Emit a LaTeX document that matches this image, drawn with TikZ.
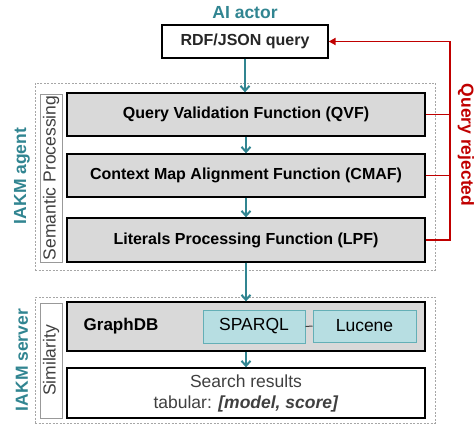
\documentclass[tikz,border=0pt]{standalone}
\usepackage{fontspec}
\setmainfont{Liberation Sans}
\usetikzlibrary{arrows.meta,calc}
\definecolor{tealc}{RGB}{49,133,145}
\definecolor{redc}{RGB}{192,0,0}
\definecolor{boxgray}{RGB}{217,217,217}
\definecolor{cyanfill}{RGB}{183,222,226}
\definecolor{cyanborder}{RGB}{100,175,182}
\definecolor{txtgray}{RGB}{64,64,64}
\newcommand{\fs}[1]{\fontsize{#1}{#1}\selectfont}
\begin{document}
\begin{tikzpicture}[x=1pt,y=-1pt,
  fnbox/.style={draw=black,line width=1.3pt,fill=boxgray,minimum width=358pt,inner sep=0pt,font=\fs{16}\bfseries},
  whitebox/.style={draw=black,line width=1.3pt,fill=white,inner sep=0pt},
  groupbox/.style={draw=gray!70,dashed,dash pattern=on 2pt off 1.5pt,line width=0.7pt},
  labbox/.style={draw=gray!80,line width=0.8pt,rotate=90,inner sep=0pt,text=txtgray,font=\fs{17.5}},
  sidelab/.style={rotate=90,text=tealc,font=\fs{17.5}\bfseries},
  tealarr/.style={draw=tealc,line width=2.4pt,-{Straight Barb[length=5pt,width=9pt,line width=2pt]}},
  redline/.style={draw=redc,line width=1.8pt},
  cyanbox/.style={draw=cyanborder,line width=1pt,fill=cyanfill,inner sep=0pt,font=\fs{17.5}}
]
\useasboundingbox (0,0) rectangle (474,425);
% group boxes
\node[groupbox,minimum width=400pt,minimum height=187pt] (agent) at (235,176.5) {};
\node[groupbox,minimum width=400pt,minimum height=126pt] (server) at (235,360) {};
% titles
\node[text=tealc,font=\fs{17.5}\bfseries] (ai) at (245,13) {AI actor};
\node[whitebox,minimum width=166pt,minimum height=33pt,font=\fs{16}\bfseries,text=black!85] (rdf) at (245,41.5) {RDF/JSON query};
% agent boxes
\node[labbox,minimum width=168pt,minimum height=22pt] (sem) at (51,178) {Semantic Processing};
\node[fnbox,minimum height=43pt] (qvf) at (246,114.5) {Query Validation Function (QVF)};
\node[fnbox,minimum height=43pt] (cmaf) at (246,175.5) {Context Map Alignment Function (CMAF)};
\node[fnbox,minimum height=44pt] (lpf) at (246,240) {Literals Processing Function (LPF)};
\node[sidelab] (agentlab) at (22,176) {IAKM agent};
% server boxes
\node[labbox,minimum width=115pt,minimum height=22pt] (sim) at (51,360.5) {Similarity};
\node[fnbox,minimum height=49pt] (gdb) at (246,326.5) {};
\node[font=\fs{17}\bfseries] (gdbt) at (121,326) {GraphDB};
\node[cyanbox,minimum width=102pt,minimum height=33pt] (sparql) at (254,326.5) {SPARQL};
\node[cyanbox,minimum width=103pt,minimum height=32pt] (lucene) at (364.5,326) {Lucene};
\node[whitebox,minimum width=358pt,minimum height=50pt,align=center,text=txtgray,font=\fs{17.5}] (res) at (246,393)
  {\rule{0pt}{14pt}Search results\\[4pt]tabular: \textbf{\textit{[model, score]}}};
\node[sidelab] (serverlab) at (22,360) {IAKM server};
% connectors
\draw[tealarr] (rdf.south) -- (rdf.south |- qvf.north);
\draw[tealarr] (qvf.south) -- (cmaf.north);
\draw[tealarr] (cmaf.south) -- (lpf.north);
\draw[tealarr] (lpf.south) -- (gdb.north);
\draw[tealarr] (gdb.south) -- (res.north);
\draw[draw=txtgray,line width=1pt] (sparql.east) -- (lucene.west);
% rejection loop
\coordinate (rq) at (450,41.5);
\draw[redline] (qvf.east) -- (qvf.east -| rq);
\draw[redline] (cmaf.east) -- (cmaf.east -| rq);
\draw[redline,-{Triangle[length=7pt,width=7pt]}] (lpf.east) -- (lpf.east -| rq) -- (rq) -- (rdf.east);
\node[rotate=-90,text=redc,font=\fs{17.5}\bfseries] (rej) at (466,145) {Query rejected};
\end{tikzpicture}
\end{document}
